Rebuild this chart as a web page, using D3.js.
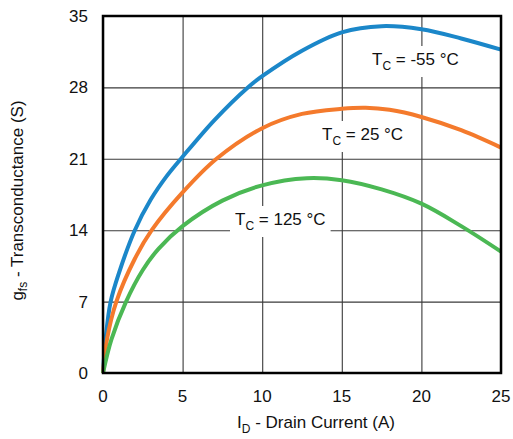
<!DOCTYPE html>
<html>
<head>
<meta charset="utf-8">
<script src="https://cdn.jsdelivr.net/npm/d3@7"></script>
<style>
  body { margin: 0; background: #fff; }
  text { font-family: "Liberation Sans", Arial, sans-serif; fill: #111; }
</style>
</head>
<body>
<div id="chart"></div>
<script>
// drain current (A) and transconductance (S)
const idM55 = [0, 0.16, 0.48, 1, 2, 3, 4, 5, 7, 9.1, 10, 12.5, 15, 17.5, 20, 22.5, 25];
const gfsM55 = [0, 3.3, 7, 9.8, 14, 17.0, 19.3, 21.2, 24.8, 28, 29.1, 31.6, 33.4, 34.0, 33.7, 32.8, 31.7];

const id25 = [0, 0.25, 0.84, 2, 3.06, 5, 7.13, 10, 12.5, 15, 16.5, 18, 20, 22.5, 25];
const gfs25 = [0, 3.3, 7, 11.2, 14, 17.7, 21, 24.0, 25.4, 25.9, 26.0, 25.8, 25.1, 23.8, 22.1];

const id125 = [0, 0.53, 1.45, 2.5, 3.5, 5, 7.5, 10, 12.8, 15, 17.5, 20, 22.5, 25];
const gfs125 = [0, 3.3, 7, 10.1, 12.2, 14.4, 16.9, 18.4, 19.1, 18.9, 18.0, 16.6, 14.4, 11.9];

const xTicks = [0, 5, 10, 15, 20, 25];
const yTicks = [0, 7, 14, 21, 28, 35];

const seriesNames = ["-55", "25", "125"];
const seriesColors = ["#1b87c9", "#f47a2c", "#4bb854"];

const width = 513, height = 439;
const margin = {left: 103, right: 12, top: 16, bottom: 66};

const svg = d3.select("#chart").append("svg")
    .attr("width", width)
    .attr("height", height);

const x = d3.scaleLinear().domain([0, 25]).range([margin.left, width - margin.right]);
const y = d3.scaleLinear().domain([0, 35]).range([height - margin.bottom, margin.top]);

//grid lines
svg.append("g")
    .attr("transform", `translate(0,${height - margin.bottom})`)
    .call(d3.axisBottom(x).tickValues(xTicks).tickSize(-(y(0) - y(35))).tickFormat(""))
    .call(g => g.select(".domain").remove())
    .call(g => g.selectAll("line").attr("stroke", "#3a3a3a").attr("stroke-width", 1.1));

svg.append("g")
    .attr("transform", `translate(${margin.left},0)`)
    .call(d3.axisLeft(y).tickValues(yTicks).tickSize(-(x(25) - x(0))).tickFormat(""))
    .call(g => g.select(".domain").remove())
    .call(g => g.selectAll("line").attr("stroke", "#3a3a3a").attr("stroke-width", 1.1));

//tick labels
svg.selectAll(".xlab").data(xTicks).enter().append("text")
    .attr("x", d => x(d))
    .attr("y", 402)
    .attr("text-anchor", "middle")
    .style("font-size", "17px")
    .text(d => d);

svg.selectAll(".ylab").data(yTicks).enter().append("text")
    .attr("x", 88)
    .attr("y", d => y(d) + 6)
    .attr("text-anchor", "end")
    .style("font-size", "17px")
    .text(d => d);

//curve labels with white boxes behind them
const labelPos = [[372, 65], [322, 140], [235, 225]];
seriesNames.forEach((name, i) => {
    const g = svg.append("g");
    const rect = g.append("rect").attr("fill", "#fff");
    const t = g.append("text")
        .attr("x", labelPos[i][0])
        .attr("y", labelPos[i][1])
        .style("font-size", "17px");
    t.append("tspan").text("T");
    t.append("tspan").attr("dy", 5).style("font-size", "12px").text("C");
    t.append("tspan").attr("dy", -5).text(` = ${name} °C`);
    const b = t.node().getBBox();
    rect.attr("x", b.x - 5).attr("y", labelPos[i][1] - 19)
        .attr("width", b.width + 10).attr("height", 31);
});

//curves
const line = d3.line()
    .x(d => x(d[0]))
    .y(d => y(d[1]))
    .curve(d3.curveCatmullRom.alpha(0.5));

const series = [
    d3.zip(idM55, gfsM55),
    d3.zip(id25, gfs25),
    d3.zip(id125, gfs125)
];

series.forEach((s, i) => {
    svg.append("path")
        .datum(s)
        .attr("fill", "none")
        .attr("stroke", seriesColors[i])
        .attr("stroke-width", 4)
        .attr("d", line);
});

//frame
svg.append("rect")
    .attr("x", x(0))
    .attr("y", y(35))
    .attr("width", x(25) - x(0))
    .attr("height", y(0) - y(35))
    .attr("fill", "none")
    .attr("stroke", "#000")
    .attr("stroke-width", 2.5);

//axis titles
const xt = svg.append("text")
    .attr("x", 316)
    .attr("y", 428)
    .attr("text-anchor", "middle")
    .style("font-size", "17px");
xt.append("tspan").text("I");
xt.append("tspan").attr("dy", 5).style("font-size", "12px").text("D");
xt.append("tspan").attr("dy", -5).text(" - Drain Current (A)");

const yt = svg.append("text")
    .attr("transform", `translate(23,${(y(0) + y(35)) / 2 + 6}) rotate(-90)`)
    .attr("text-anchor", "middle")
    .style("font-size", "17px");
yt.append("tspan").text("g");
yt.append("tspan").attr("dy", 4).style("font-size", "12px").text("fs");
yt.append("tspan").attr("dy", -4).text(" - Transconductance (S)");
</script>
</body>
</html>
